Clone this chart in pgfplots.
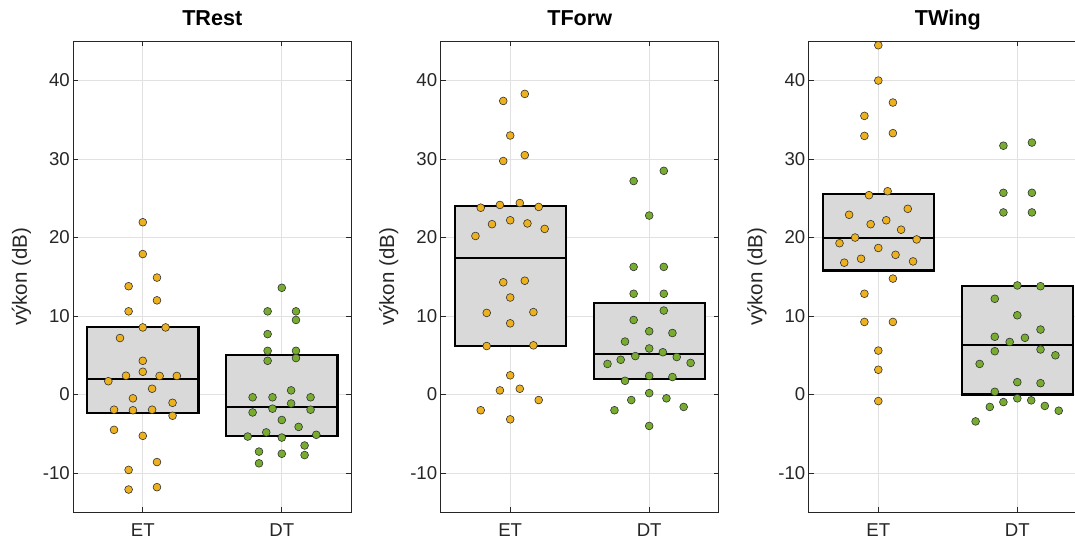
\documentclass[border=0pt]{standalone}
\usepackage{fontspec}
\setmainfont{Liberation Sans}
\usepackage{pgfplots}
\pgfplotsset{compat=1.18}

\definecolor{cET}{RGB}{237,177,32}
\definecolor{cDT}{RGB}{119,172,48}
\definecolor{boxgray}{RGB}{217,217,217}
\definecolor{axgray}{RGB}{38,38,38}
\definecolor{gridgray}{RGB}{225,225,225}

\pgfplotsset{
  panel/.style={
    scale only axis, width=278pt, height=471pt,
    anchor=south west,
    xmin=0.5, xmax=2.5, ymin=-15, ymax=45,
    xtick={1,2}, xticklabels={ET,DT},
    ytick={-10,0,10,20,30,40},
    grid=major,
    major grid style={gridgray, line width=0.8pt},
    axis line style={axgray, line width=0.9pt},
    tick style={axgray, line width=0.9pt},
    tick align=inside, major tick length=5pt,
    ticklabel style={font=\fontsize{18.6}{22}\selectfont, text=axgray},
    xticklabel style={yshift=-8pt},
    /pgf/number format/assume math mode=true,
    ylabel={výkon (dB)},
    ylabel shift=5pt,
    ylabel style={font=\fontsize{20.5}{24}\selectfont, text=axgray},
    title style={font=\bfseries\fontsize{21.6}{25}\selectfont,
      at={(0.5,1)}, anchor=base, yshift=9.5pt},
    clip mode=individual,
  },
  boxst/.style={draw=black, line width=2.2pt, fill=boxgray},
  medst/.style={draw=black, line width=2.2pt},
  ptET/.style={only marks, mark=*, mark size=3.9pt,
    mark options={fill=cET, draw=black!80, line width=0.6pt}},
  ptDT/.style={only marks, mark=*, mark size=3.9pt,
    mark options={fill=cDT, draw=black!80, line width=0.6pt}},
}

\begin{document}
\begin{tikzpicture}

% ---- TRest
\begin{axis}[panel, at={(73.3pt,27.7pt)}, title={TRest}]
  \addplot[boxst] coordinates {(0.6,-2.32) (1.4,-2.32) (1.4,8.63) (0.6,8.63)} --cycle;
  \addplot[boxst] coordinates {(1.6,-5.26) (2.4,-5.26) (2.4,5.08) (1.6,5.08)} --cycle;
  \addplot[medst] coordinates {(0.6,1.97) (1.4,1.97)};
  \addplot[medst] coordinates {(1.6,-1.58) (2.4,-1.58)};
  \addplot[ptET] coordinates {
    (1.000,21.95) (1.000,17.90) (0.898,13.80) (1.102,14.90) (1.102,12.00)
    (0.898,10.60) (1.000,8.55) (1.164,8.55) (0.836,7.20) (1.000,4.30)
    (1.000,2.90) (0.879,2.40) (1.121,2.37) (1.245,2.37) (0.752,1.70)
    (1.067,0.74) (0.929,-0.48) (1.214,-1.05) (0.793,-1.93) (0.929,-2.00)
    (1.067,-1.93) (1.214,-2.70) (0.793,-4.50) (1.000,-5.26) (1.102,-8.60)
    (0.898,-9.60) (1.102,-11.80) (0.898,-12.10)};
  \addplot[ptDT] coordinates {
    (2.000,13.60) (1.898,10.60) (2.102,10.60) (2.102,9.50) (1.898,7.70)
    (1.898,5.57) (2.102,5.57) (1.898,4.30) (2.102,4.65) (2.067,0.53)
    (1.790,-0.35) (1.933,-0.35) (2.207,-0.35) (2.067,-1.14) (1.933,-1.80)
    (2.207,-1.93) (1.790,-2.28) (2.000,-3.24) (2.121,-4.12) (1.755,-5.35)
    (1.888,-4.82) (2.000,-5.48) (2.248,-5.13) (1.836,-7.27) (2.000,-7.54)
    (2.164,-6.49) (2.164,-7.71) (1.836,-8.76)};
\end{axis}

% ---- TForw
\begin{axis}[panel, at={(440.7pt,27.7pt)}, title={TForw}]
  \addplot[boxst] coordinates {(0.6,6.18) (1.4,6.18) (1.4,24.06) (0.6,24.06)} --cycle;
  \addplot[boxst] coordinates {(1.6,1.97) (2.4,1.97) (2.4,11.7) (1.6,11.7)} --cycle;
  \addplot[medst] coordinates {(0.6,17.4) (1.4,17.4)};
  \addplot[medst] coordinates {(1.6,5.17) (2.4,5.17)};
  \addplot[ptET] coordinates {
    (1.105,38.3) (0.950,37.4) (1.000,33.0) (0.950,29.75) (1.105,30.5)
    (0.788,23.8) (0.926,24.15) (1.069,24.4) (1.205,23.9) (0.869,21.7)
    (1.000,22.2) (1.124,21.8) (1.248,21.1) (0.750,20.2) (0.950,14.3)
    (1.105,14.5) (1.000,12.36) (0.831,10.4) (1.167,10.5) (1.000,9.07)
    (0.831,6.18) (1.167,6.27) (1.000,2.45) (0.926,0.53) (1.069,0.74)
    (1.205,-0.7) (0.788,-2.0) (1.000,-3.16)};
  \addplot[ptDT] coordinates {
    (2.105,28.5) (1.888,27.2) (2.000,22.8) (1.888,16.26) (2.105,16.26)
    (1.888,12.84) (2.105,12.84) (2.105,10.7) (1.888,9.5) (2.000,8.06)
    (2.167,7.84) (1.826,6.75) (2.000,5.87) (2.098,5.39) (1.900,4.9)
    (1.795,4.43) (2.198,4.78) (1.700,3.9) (2.298,4.03) (2.000,2.37)
    (2.167,2.23) (1.826,1.75) (2.000,0.18) (1.871,-0.7) (2.124,-0.48)
    (2.248,-1.58) (1.750,-2.0) (2.000,-4.0)};
\end{axis}

% ---- TWing
\begin{axis}[panel, at={(808.8pt,27.7pt)}, title={TWing}]
  \addplot[boxst] coordinates {(0.6,15.8) (1.4,15.8) (1.4,25.5) (0.6,25.5)} --cycle;
  \addplot[boxst] coordinates {(1.6,0) (2.4,0) (2.4,13.85) (1.6,13.85)} --cycle;
  \addplot[medst] coordinates {(0.6,19.9) (1.4,19.9)};
  \addplot[medst] coordinates {(1.6,6.27) (2.4,6.27)};
  \addplot[ptET] coordinates {
    (1.000,44.5) (1.000,40.0) (1.105,37.2) (0.900,35.5) (0.900,32.95)
    (1.105,33.3) (1.067,25.9) (0.933,25.4) (1.212,23.66) (0.790,22.9)
    (1.057,22.2) (0.945,21.7) (1.164,21.0) (0.833,20.0) (1.276,19.76)
    (0.721,19.28) (1.000,18.67) (1.124,17.8) (0.876,17.3) (0.755,16.8)
    (1.250,16.96) (1.105,14.77) (0.900,12.84) (0.900,9.25) (1.105,9.25)
    (1.000,5.6) (1.000,3.16) (1.000,-0.83)};
  \addplot[ptDT] coordinates {
    (1.900,31.7) (2.105,32.1) (1.900,25.7) (2.105,25.7) (1.900,23.2)
    (2.105,23.2) (2.000,13.9) (2.167,13.8) (1.838,12.2) (2.000,10.1)
    (2.167,8.28) (1.838,7.36) (2.055,7.23) (1.945,6.7) (1.838,5.52)
    (2.167,5.74) (2.274,5.0) (1.729,3.9) (2.000,1.58) (2.167,1.45)
    (1.838,0.35) (1.900,-0.96) (2.000,-0.48) (2.100,-0.74) (1.802,-1.58)
    (2.198,-1.45) (2.298,-2.06) (1.700,-3.42)};
\end{axis}

% the reference image is cut at its right edge
\pgfresetboundingbox
\useasboundingbox (0pt,0pt) rectangle (1075pt,540pt);
\end{tikzpicture}
\end{document}
